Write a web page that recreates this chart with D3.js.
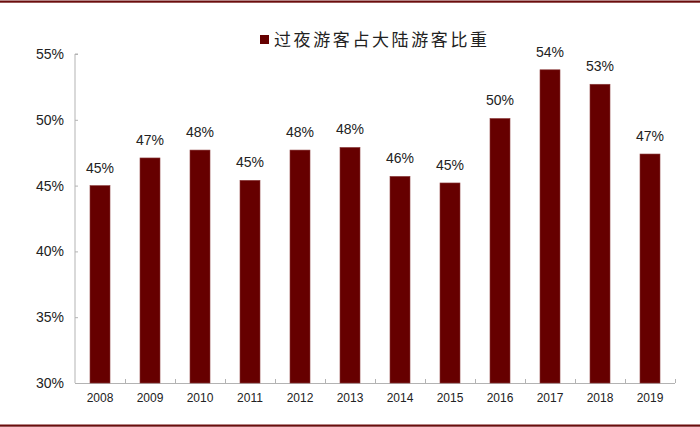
<!DOCTYPE html>
<html><head><meta charset="utf-8">
<script src="https://cdn.jsdelivr.net/npm/d3@7"></script>
<style>html,body{margin:0;padding:0;background:#fff;}svg{display:block;}</style>
</head><body>
<script>
const categories = ["2008","2009","2010","2011","2012","2013","2014","2015","2016","2017","2018","2019"];
const values = [45.0, 47.1, 47.7, 45.4, 47.7, 47.9, 45.7, 45.2, 50.1, 53.8, 52.7, 47.4];
const labels = ["45%","47%","48%","45%","48%","48%","46%","45%","50%","54%","53%","47%"];
const yTicks = [30, 35, 40, 45, 50, 55];
const seriesName = "过夜游客占大陆游客比重";

const W = 700, H = 427;
const svg = d3.select("body").append("svg").attr("width", W).attr("height", H);

// frame lines
svg.append("rect").attr("x",0).attr("y",0.5).attr("width",W).attr("height",2.2).attr("fill","#6b0d0d");
svg.append("rect").attr("x",0).attr("y",424.5).attr("width",W).attr("height",2.2).attr("fill","#6b0d0d");

const x = d3.scaleBand().domain(categories).range([75, 675]).paddingInner(0.6).paddingOuter(0.3);
const y = d3.scaleLinear().domain([30, 55]).range([383, 54]);

const axisColor = "#b3b3b3";

// y axis
const gy = svg.append("g").attr("transform","translate(75,0)")
  .call(d3.axisRight(y).tickValues(yTicks).tickSize(3).tickFormat(""));
gy.select(".domain").attr("stroke", axisColor).attr("d", `M3,${y(55)}H0V${y(30)}`);
gy.selectAll(".tick line").attr("stroke", axisColor);
svg.append("g").selectAll("text").data(yTicks).join("text")
  .attr("x", 64).attr("y", d => y(d)).attr("dy","0.36em")
  .attr("text-anchor","end")
  .attr("font-family","Liberation Sans, Arial, sans-serif").attr("font-size",14).attr("fill","#222")
  .text(d => d + "%");

// x axis
const step = x.step();
const gx = svg.append("g").attr("transform",`translate(0,383)`);
gx.append("line").attr("x1",75).attr("x2",675).attr("y1",0.5).attr("y2",0.5).attr("stroke",axisColor);
gx.selectAll("line.t").data(categories).join("line").attr("class","t")
  .attr("x1", d => x(d) + x.bandwidth()/2 + step/2 + 0.5)
  .attr("x2", d => x(d) + x.bandwidth()/2 + step/2 + 0.5)
  .attr("y1", 0).attr("y2", -4).attr("stroke", axisColor);
gx.selectAll("text").data(categories).join("text")
  .attr("x", d => x(d) + x.bandwidth()/2).attr("y", 19)
  .attr("text-anchor","middle")
  .attr("font-family","Liberation Sans, Arial, sans-serif").attr("font-size",12).attr("fill","#222")
  .text(d => d);

// bars
svg.append("g").selectAll("rect").data(categories).join("rect")
  .attr("x", d => x(d)).attr("width", x.bandwidth())
  .attr("y", (d,i) => y(values[i])).attr("height", (d,i) => y(30) - y(values[i]))
  .attr("fill","#660000").attr("stroke","#8a3a3a").attr("stroke-width",0.6);

// data labels
svg.append("g").selectAll("text").data(categories).join("text")
  .attr("x", d => x(d) + x.bandwidth()/2).attr("y", (d,i) => y(values[i]) - 13)
  .attr("text-anchor","middle")
  .attr("font-family","Liberation Sans, Arial, sans-serif").attr("font-size",14).attr("fill","#222")
  .text((d,i) => labels[i]);

// legend
svg.append("rect").attr("x",260).attr("y",35).attr("width",9).attr("height",9).attr("fill","#660000");
svg.append("text").attr("x",274).attr("y",45.5)
  .attr("font-family","Noto Sans CJK SC, sans-serif").attr("font-size",17).attr("letter-spacing",2.6).attr("fill","#222")
  .text(seriesName);
</script>
</body></html>
